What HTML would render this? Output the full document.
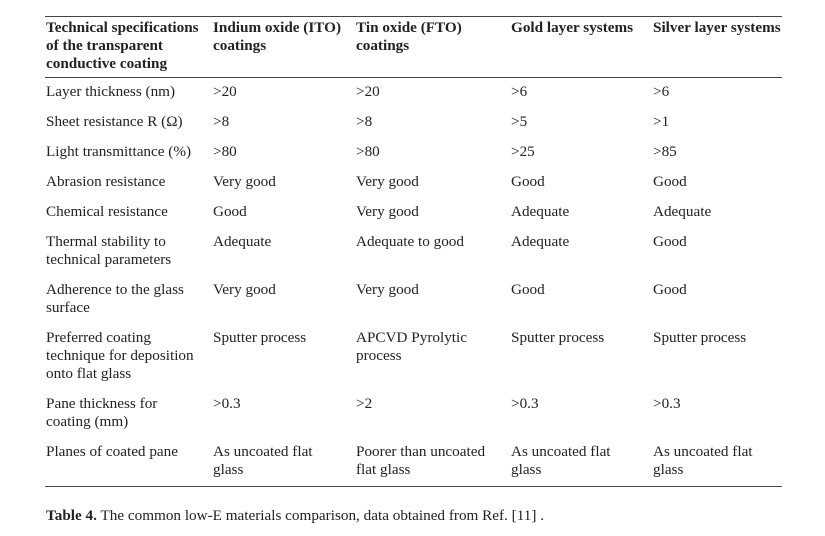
<!DOCTYPE html>
<html><head><meta charset="utf-8"><style>
body{margin:0;width:825px;height:536px;background:#fff;position:relative;font-family:"Liberation Serif",serif;font-size:15.2px;line-height:18px;color:#222;}
.l{position:absolute;left:45px;width:737px;height:1px;background:#444;}
.c{position:absolute;white-space:nowrap;}
.h{font-weight:bold;}
</style></head><body>
<div class="l" style="top:16px"></div>
<div class="l" style="top:77px"></div>
<div class="l" style="top:486px"></div>
<div class="c h" style="left:46px;top:19px">Technical specifications<br>of the transparent<br>conductive coating</div>
<div class="c h" style="left:213px;top:19px">Indium oxide (ITO)<br>coatings</div>
<div class="c h" style="left:356px;top:19px">Tin oxide (FTO)<br>coatings</div>
<div class="c h" style="left:511px;top:19px">Gold layer systems</div>
<div class="c h" style="left:653px;top:19px">Silver layer systems</div>

<div class="c" style="left:46px;top:83px">Layer thickness (nm)</div>
<div class="c" style="left:213px;top:83px">&gt;20</div><div class="c" style="left:356px;top:83px">&gt;20</div><div class="c" style="left:511px;top:83px">&gt;6</div><div class="c" style="left:653px;top:83px">&gt;6</div>

<div class="c" style="left:46px;top:113px">Sheet resistance R (Ω)</div>
<div class="c" style="left:213px;top:113px">&gt;8</div><div class="c" style="left:356px;top:113px">&gt;8</div><div class="c" style="left:511px;top:113px">&gt;5</div><div class="c" style="left:653px;top:113px">&gt;1</div>

<div class="c" style="left:46px;top:143px">Light transmittance (%)</div>
<div class="c" style="left:213px;top:143px">&gt;80</div><div class="c" style="left:356px;top:143px">&gt;80</div><div class="c" style="left:511px;top:143px">&gt;25</div><div class="c" style="left:653px;top:143px">&gt;85</div>

<div class="c" style="left:46px;top:173px">Abrasion resistance</div>
<div class="c" style="left:213px;top:173px">Very good</div><div class="c" style="left:356px;top:173px">Very good</div><div class="c" style="left:511px;top:173px">Good</div><div class="c" style="left:653px;top:173px">Good</div>

<div class="c" style="left:46px;top:203px">Chemical resistance</div>
<div class="c" style="left:213px;top:203px">Good</div><div class="c" style="left:356px;top:203px">Very good</div><div class="c" style="left:511px;top:203px">Adequate</div><div class="c" style="left:653px;top:203px">Adequate</div>

<div class="c" style="left:46px;top:233px">Thermal stability to<br>technical parameters</div>
<div class="c" style="left:213px;top:233px">Adequate</div><div class="c" style="left:356px;top:233px">Adequate to good</div><div class="c" style="left:511px;top:233px">Adequate</div><div class="c" style="left:653px;top:233px">Good</div>

<div class="c" style="left:46px;top:281px">Adherence to the glass<br>surface</div>
<div class="c" style="left:213px;top:281px">Very good</div><div class="c" style="left:356px;top:281px">Very good</div><div class="c" style="left:511px;top:281px">Good</div><div class="c" style="left:653px;top:281px">Good</div>

<div class="c" style="left:46px;top:329px">Preferred coating<br>technique for deposition<br>onto flat glass</div>
<div class="c" style="left:213px;top:329px">Sputter process</div><div class="c" style="left:356px;top:329px">APCVD Pyrolytic<br>process</div><div class="c" style="left:511px;top:329px">Sputter process</div><div class="c" style="left:653px;top:329px">Sputter process</div>

<div class="c" style="left:46px;top:395px">Pane thickness for<br>coating (mm)</div>
<div class="c" style="left:213px;top:395px">&gt;0.3</div><div class="c" style="left:356px;top:395px">&gt;2</div><div class="c" style="left:511px;top:395px">&gt;0.3</div><div class="c" style="left:653px;top:395px">&gt;0.3</div>

<div class="c" style="left:46px;top:443px">Planes of coated pane</div>
<div class="c" style="left:213px;top:443px">As uncoated flat<br>glass</div><div class="c" style="left:356px;top:443px">Poorer than uncoated<br>flat glass</div><div class="c" style="left:511px;top:443px">As uncoated flat<br>glass</div><div class="c" style="left:653px;top:443px">As uncoated flat<br>glass</div>

<div class="c" style="left:46px;top:507px"><b>Table 4.</b> The common low-E materials comparison, data obtained from Ref. [11] .</div>
</body></html>
